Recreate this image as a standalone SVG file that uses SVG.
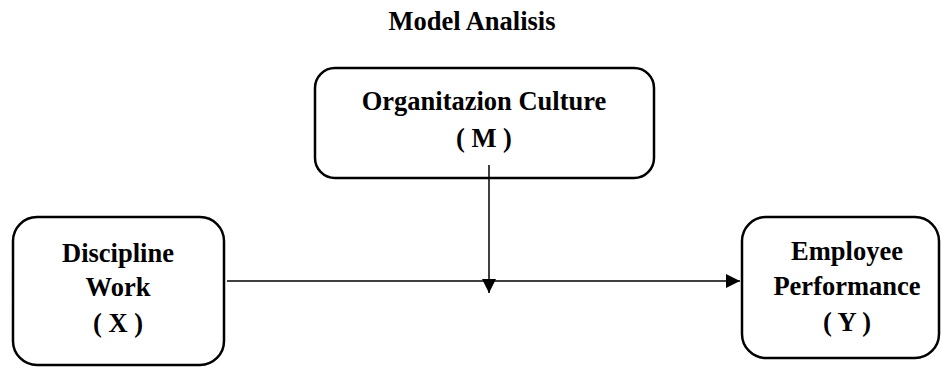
<svg xmlns="http://www.w3.org/2000/svg" width="942" height="367" viewBox="0 0 942 367">
<defs>
<marker id="arr" viewBox="0 0 14 14" refX="14" refY="7" markerWidth="14" markerHeight="14" markerUnits="userSpaceOnUse" orient="auto">
<path d="M0,0 L14,7 L0,14 Z" fill="#000"/>
</marker>
<style>
.box{fill:#fff;stroke:#000;stroke-width:2.5}
.t{font-family:"Liberation Serif","Times New Roman",serif;font-weight:bold;font-size:26.5px;fill:#000;text-anchor:middle}
.c{stroke:#000;stroke-width:1.5;fill:none}
</style>
</defs>
<rect width="942" height="367" fill="#fff"/>
<text class="t" x="472" y="30">Model Analisis</text>
<g id="node-m">
<rect class="box" x="315" y="68" width="339" height="110" rx="20"/>
<text class="t" x="484" y="110">Organitazion Culture</text>
<text class="t" x="484" y="147">( M )</text>
</g>
<g id="node-x">
<rect class="box" x="13" y="217" width="211" height="148" rx="24"/>
<text class="t" x="118" y="262">Discipline</text>
<text class="t" x="118" y="296">Work</text>
<text class="t" x="118" y="332">( X )</text>
</g>
<g id="node-y">
<rect class="box" x="742" y="217" width="197" height="141" rx="24"/>
<text class="t" x="847" y="260">Employee</text>
<text class="t" x="847" y="295">Performance</text>
<text class="t" x="847" y="331">( Y )</text>
</g>
<g id="connectors">
<line class="c" x1="227" y1="281" x2="740" y2="281" marker-end="url(#arr)"/>
<line class="c" x1="489" y1="165" x2="489" y2="293" marker-end="url(#arr)"/>
</g>
</svg>
